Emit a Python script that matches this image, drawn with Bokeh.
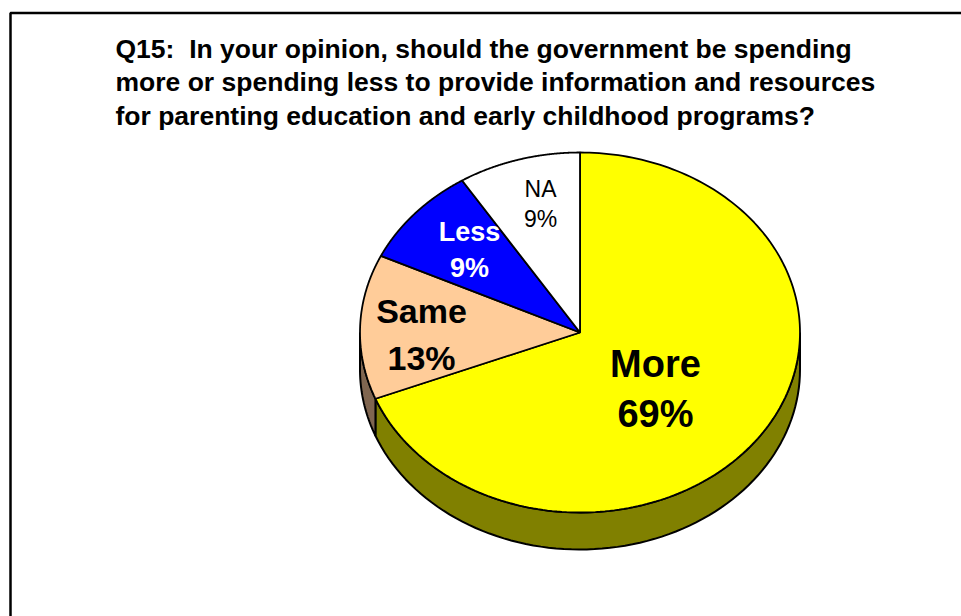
import numpy as np
from bokeh.plotting import figure
from bokeh.models import Range1d
from bokeh.core.properties import value
from bokeh.embed import file_html
from bokeh.resources import INLINE

# ---- data ----
categories = ["More", "Same", "Less", "NA"]
percents = [69, 13, 9, 9]
top_colors = ["#FFFF00", "#FFCC99", "#0000FF", "#FFFFFF"]
side_colors = ["#808000", "#806650", "#000080", "#808080"]
label_colors = ["#000000", "#000000", "#FFFFFF", "#000000"]
label_sizes = ["38px", "34px", "27px", "23px"]
label_styles = ["bold", "bold", "bold", "normal"]
title_lines = [
    "Q15:\u00a0 In your opinion, should the government be spending",
    "more or spending less to provide information and resources",
    "for parenting education and early childhood programs?",
]

W, H = 961, 616
p = figure(width=W, height=H, output_backend="svg", toolbar_location=None,
           x_range=Range1d(0, W), y_range=Range1d(H, 0), min_border=0)
p.axis.visible = False
p.grid.visible = False
p.outline_line_color = None
p.background_fill_color = "white"
p.border_fill_color = "white"

# frame (open to the right and bottom)
p.line([W + 10, 10, 10], [12.5, 12.5, H + 10], line_color="black", line_width=2.5)

# title
for i, t in enumerate(title_lines):
    p.text([115], [48 + i * 33.5], text=[t], text_font=value("Liberation Sans"),
           text_font_size="26.5px", text_font_style="bold", text_color="black",
           text_baseline="middle", text_align="left")

# pie geometry
cx, cy, rx, ry, depth = 579.5, 332.0, 220.0, 180.0, 37.0
total = float(sum(percents))
starts, ends = [], []
a = 90.0
for v in percents:
    span = 360.0 * v / total
    starts.append(a)
    ends.append(a - span)
    a -= span


def pt(t, dy=0.0):
    r = np.radians(t)
    return cx + rx * np.cos(r), cy - ry * np.sin(r) + dy


# sides (front half: angles 180..360)
sx, sy, sc = [], [], []
for s, e, col in zip(starts, ends, side_colors):
    lo, hi = e, s
    for shift in (0, 360, -360):
        a0, a1 = max(lo + shift, 180), min(hi + shift, 360)
        if a1 > a0:
            ts = np.linspace(a0, a1, 80)
            xs_top = [pt(t)[0] for t in ts]
            ys_top = [pt(t)[1] for t in ts]
            xs_bot = [pt(t, depth)[0] for t in ts[::-1]]
            ys_bot = [pt(t, depth)[1] for t in ts[::-1]]
            sx.append(xs_top + xs_bot)
            sy.append(ys_top + ys_bot)
            sc.append(col)
p.patches(sx, sy, fill_color=sc, line_color="black", line_width=2)

# top faces
tx, ty = [], []
for s, e in zip(starts, ends):
    ts = np.linspace(s, e, 200)
    tx.append([cx] + [pt(t)[0] for t in ts])
    ty.append([cy] + [pt(t)[1] for t in ts])
p.patches(tx, ty, fill_color=top_colors, line_color="black", line_width=1.8)

# labels (x centre, middle of name, middle of percentage)
label_pos = [(655, 363, 413), (421, 310.5, 357.5), (469, 231.5, 267.5), (540, 188, 218.5)]
for cat, v, (lx, ly1, ly2), col, fs, st in zip(categories, percents, label_pos,
                                                label_colors, label_sizes, label_styles):
    p.text([lx, lx], [ly1, ly2], text=[cat, f"{v}%"],
           text_font=value("Liberation Sans"), text_font_size=fs,
           text_font_style=st, text_color=col, text_align="center",
           text_baseline="middle")

open("out.html", "w").write(file_html(p, INLINE))
